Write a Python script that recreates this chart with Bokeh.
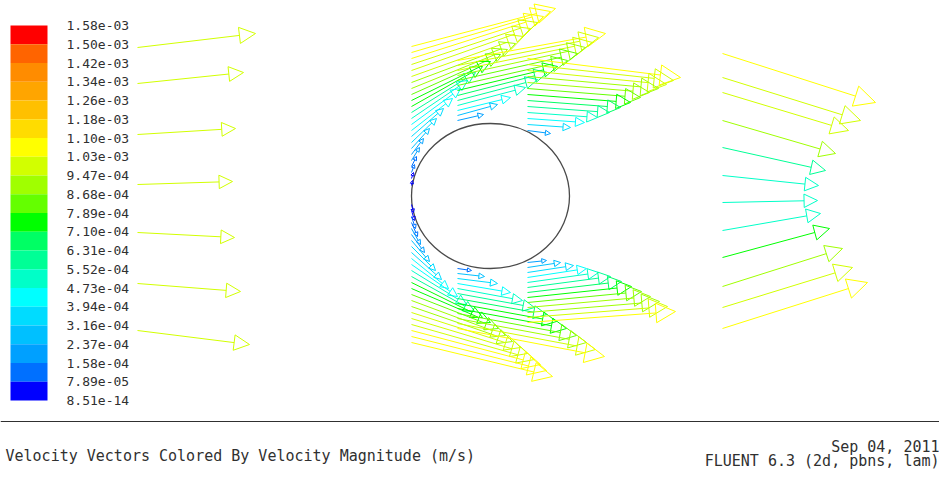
import math
from bokeh.plotting import figure
from bokeh.models import ColumnDataSource, Range1d, Arrow, NormalHead, Span
from bokeh.core.properties import value, field
from bokeh.embed import file_html
from bokeh.resources import INLINE

# ---------------- legend ----------------
legend_labels = ["1.58e-03", "1.50e-03", "1.42e-03", "1.34e-03", "1.26e-03", "1.18e-03",
                 "1.10e-03", "1.03e-03", "9.47e-04", "8.68e-04", "7.89e-04", "7.10e-04",
                 "6.31e-04", "5.52e-04", "4.73e-04", "3.94e-04", "3.16e-04", "2.37e-04",
                 "1.58e-04", "7.89e-05", "8.51e-14"]
# band colours, top (high) to bottom (low)
legend_colors = ["#ff0000", "#ff6400", "#ff8c00", "#ffa500", "#ffc000", "#ffdc00",
                 "#ffff00", "#d2ff00", "#a0ff00", "#64ff00", "#00ff00", "#00ff64",
                 "#00ff96", "#00ffc8", "#00ffff", "#00dcff", "#00c0ff", "#00a0ff",
                 "#0070ff", "#0000ff"]
level_step = 7.89e-05

# ---------------- vectors (pixel-like coords of the picture) ----------------
# inlet (left)
inlet_x0 = [137, 137, 137, 137, 137, 137, 137]
inlet_y0 = [47, 83, 134, 184, 232, 283, 330]
inlet_x1 = [255, 243, 235, 232, 234, 240, 249]
inlet_y1 = [33, 72, 128, 181, 237, 291, 344]
inlet_mag = [1.02e-3, 1.01e-3, 1.0e-3, 1.0e-3, 1.0e-3, 1.01e-3, 1.02e-3]

# column 1, upper
c1t_x0 = [411] * 24
c1t_y0 = [46, 52, 58, 64, 70, 76, 82, 88, 94, 100, 106, 112, 118, 124, 130, 136,
          142, 148, 154, 160, 166, 172, 178, 185]
c1t_x1 = [555, 550, 543, 537, 530, 523, 515, 507, 500, 490, 482, 475, 467, 460, 452, 443,
          436, 429, 423, 419, 416, 414, 413, 412]
c1t_y1 = [8, 11, 16, 22, 28, 36, 43, 49, 54, 61, 66, 72, 80, 88, 98, 108,
          118, 128, 138, 147, 156, 164, 172, 180]
c1t_mag = [1.07e-3, 1.05e-3, 1.04e-3, 1.02e-3, 1.0e-3, 9.7e-4, 9.3e-4, 8.8e-4, 8.2e-4, 7.6e-4,
           7.2e-4, 6.2e-4, 5.2e-4, 4.7e-4, 4.3e-4, 3.8e-4, 3.3e-4, 2.8e-4, 2.2e-4, 1.7e-4,
           1.3e-4, 1.0e-4, 7.0e-5, 4.0e-5]

# column 2, upper
c2t_x0 = [457] * 13
c2t_y0 = [60, 65, 70, 75, 80, 85, 90, 95, 100, 105, 110, 115, 120]
c2t_x1 = [605, 598, 592, 585, 577, 567, 557, 547, 537, 525, 510, 497, 483]
c2t_y1 = [33, 37, 42, 47, 53, 60, 66, 72, 79, 87, 97, 104, 114]
c2t_mag = [1.05e-3, 1.0e-3, 9.5e-4, 9.0e-4, 8.5e-4, 8.0e-4, 7.5e-4, 7.0e-4, 6.2e-4,
           5.2e-4, 4.2e-4, 3.0e-4, 1.8e-4]

# column 3, upper
c3t_x0 = [527] * 13
c3t_y0 = [58, 64, 70, 76, 82, 88, 94, 100, 106, 112, 118, 124, 130]
c3t_x1 = [680, 673, 666, 658, 649, 640, 630, 620, 609, 597, 584, 570, 550]
c3t_y1 = [77, 80, 84, 88, 92, 97, 102, 107, 112, 117, 122, 127, 133]
c3t_mag = [1.05e-3, 1.01e-3, 9.7e-4, 9.2e-4, 8.7e-4, 8.1e-4, 7.5e-4, 6.8e-4, 6.0e-4,
           5.2e-4, 4.3e-4, 3.3e-4, 2.0e-4]

# column 1, lower
c1b_x0 = [411] * 24
c1b_y0 = [204, 210, 216, 222, 228, 234, 240, 246, 252, 258, 264, 270, 276, 282, 288, 294,
          300, 306, 312, 318, 324, 330, 336, 342]
c1b_x1 = [413, 414, 415, 417, 420, 424, 429, 435, 441, 448, 457, 466, 474, 482, 490, 498,
          505, 512, 520, 527, 534, 540, 546, 552]
c1b_y1 = [212, 220, 228, 236, 244, 252, 261, 270, 279, 288, 296, 304, 311, 317, 322, 328,
          335, 341, 347, 353, 359, 364, 370, 376]
c1b_mag = [4.0e-5, 7.0e-5, 1.0e-4, 1.3e-4, 1.7e-4, 2.2e-4, 2.8e-4, 3.3e-4, 3.8e-4, 4.3e-4,
           4.7e-4, 5.2e-4, 6.2e-4, 7.2e-4, 7.6e-4, 8.2e-4, 8.8e-4, 9.3e-4, 9.7e-4, 1.0e-3,
           1.02e-3, 1.04e-3, 1.05e-3, 1.07e-3]

# column 2, lower
c2b_x0 = [457] * 13
c2b_y0 = [268, 273, 278, 283, 288, 293, 298, 303, 308, 313, 318, 323, 328]
c2b_x1 = [471, 484, 497, 510, 522, 534, 546, 556, 566, 576, 586, 595, 604]
c2b_y1 = [270, 276, 283, 292, 300, 307, 314, 321, 328, 335, 342, 349, 356]
c2b_mag = [1.5e-4, 2.5e-4, 3.3e-4, 4.2e-4, 5.0e-4, 5.8e-4, 6.6e-4, 7.2e-4, 7.8e-4,
           8.4e-4, 9.0e-4, 9.6e-4, 1.03e-3]

# column 3, lower
c3b_x0 = [527] * 13
c3b_y0 = [262, 267, 272, 277, 282, 287, 292, 297, 302, 307, 312, 317, 322]
c3b_x1 = [546, 560, 573, 586, 598, 610, 621, 631, 641, 650, 659, 667, 675]
c3b_y1 = [260, 262, 265, 268, 272, 276, 281, 286, 291, 296, 301, 306, 311]
c3b_mag = [1.8e-4, 2.8e-4, 3.6e-4, 4.4e-4, 5.2e-4, 6.0e-4, 6.8e-4, 7.5e-4, 8.2e-4,
           8.8e-4, 9.3e-4, 9.8e-4, 1.03e-3]

# outlet column (right)
out_x0 = [722] * 12
out_y0 = [53, 77, 92, 120, 147, 175, 202, 230, 257, 286, 307, 328]
out_x1 = [875, 860, 848, 835, 825, 818, 817, 820, 829, 842, 852, 867]
out_y1 = [102, 120, 130, 153, 170, 185, 200, 213, 228, 248, 267, 282]
out_mag = [1.06e-3, 1.0e-3, 9.7e-4, 9.2e-4, 5.6e-4, 5.4e-4, 5.3e-4, 5.5e-4, 7.2e-4,
           9.0e-4, 9.8e-4, 1.05e-3]

# cylinder
cyl_x, cyl_y, cyl_w, cyl_h = 490, 195.5, 158, 145

footer_left = "Velocity Vectors Colored By Velocity Magnitude (m/s)"
footer_date = "Sep 04, 2011"
footer_ver = "FLUENT 6.3 (2d, pbns, lam)"

# ---------------- build ----------------
groups = [
    (inlet_x0, inlet_y0, inlet_x1, inlet_y1, inlet_mag),
    (c1t_x0, c1t_y0, c1t_x1, c1t_y1, c1t_mag),
    (c2t_x0, c2t_y0, c2t_x1, c2t_y1, c2t_mag),
    (c3t_x0, c3t_y0, c3t_x1, c3t_y1, c3t_mag),
    (c1b_x0, c1b_y0, c1b_x1, c1b_y1, c1b_mag),
    (c2b_x0, c2b_y0, c2b_x1, c2b_y1, c2b_mag),
    (c3b_x0, c3b_y0, c3b_x1, c3b_y1, c3b_mag),
    (out_x0, out_y0, out_x1, out_y1, out_mag),
]
palette_low_high = legend_colors[::-1]
X0, Y0, X1, Y1, COL, HS = [], [], [], [], [], []
for gx0, gy0, gx1, gy1, gm in groups:
    for a, b, c, d, m in zip(gx0, gy0, gx1, gy1, gm):
        X0.append(a); Y0.append(b); X1.append(c); Y1.append(d)
        idx = min(len(palette_low_high) - 1, int(m / level_step))
        COL.append(palette_low_high[idx])
        L = math.hypot(c - a, d - b)
        HS.append(2.5 + 0.115 * L)

src = ColumnDataSource(dict(x0=X0, y0=Y0, x1=X1, y1=Y1, color=COL, hs=HS))

W, H = 939, 469
p = figure(width=W, height=H, x_range=Range1d(0, W), y_range=Range1d(H, 0),
           output_backend="svg", toolbar_location=None, min_border=0,
           x_axis_location=None, y_axis_location=None)
p.grid.visible = False
p.outline_line_color = None
p.background_fill_color = "white"
p.border_fill_color = "white"

# legend colour bar
n = len(legend_colors)
top0, step = 25.0, 18.75
tops = [top0 + i * step for i in range(n)]
bots = [top0 + (i + 1) * step for i in range(n)]
p.quad(left=[10] * n, right=[47] * n, top=tops, bottom=bots,
       fill_color=legend_colors, line_color=None)
label_y = [top0 + i * step for i in range(len(legend_labels))]
p.text(x=[66] * len(legend_labels), y=label_y, text=legend_labels,
       text_font=value("DejaVu Sans Mono"), text_font_size="13px",
       text_baseline="middle", text_align="left", text_color="#303030")

# cylinder
p.ellipse(x=[cyl_x], y=[cyl_y], width=[cyl_w], height=[cyl_h],
          fill_color=None, line_color="#4a4a4a", line_width=1.3)

# vectors
arrow = Arrow(x_start="x0", y_start="y0", x_end="x1", y_end="y1", source=src,
              line_color=field("color"), line_width=1,
              end=NormalHead(size=field("hs"), line_color=field("color"),
                             fill_color=None, fill_alpha=0, line_width=1))
p.add_layout(arrow)

# footer
p.add_layout(Span(location=421, dimension="width", line_color="#303030", line_width=1))
p.text(x=[5], y=[455], text=[footer_left], text_font=value("DejaVu Sans Mono"),
       text_font_size="15px", text_baseline="middle", text_align="left", text_color="#303030")
p.text(x=[939, 939], y=[446, 460], text=[footer_date, footer_ver],
       text_font=value("DejaVu Sans Mono"), text_font_size="15px",
       text_baseline="middle", text_align="right", text_color="#303030")

open("out.html", "w").write(file_html(p, INLINE))
